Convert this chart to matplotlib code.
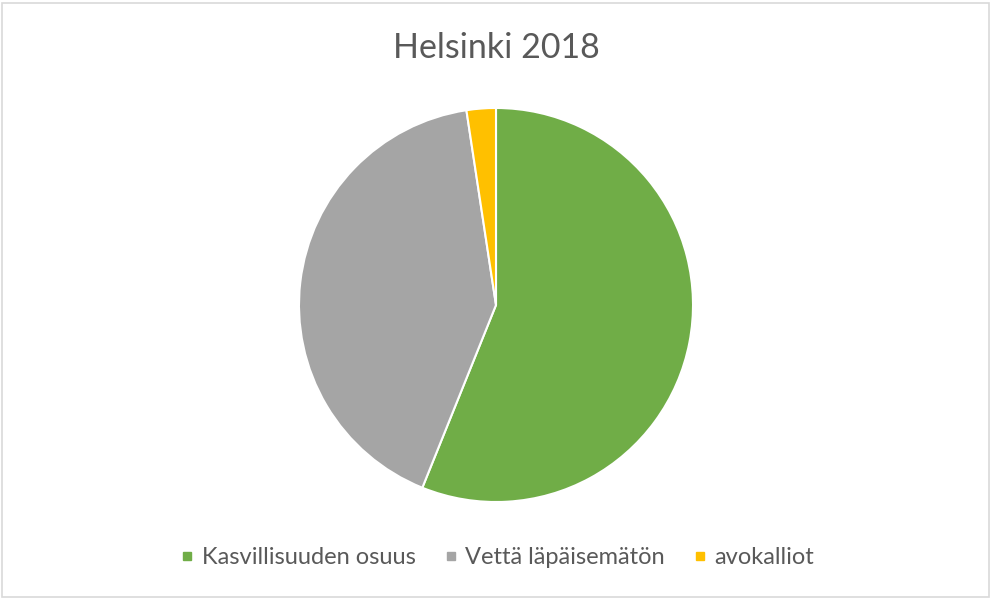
import matplotlib.pyplot as plt
from matplotlib.lines import Line2D
from matplotlib.patches import Rectangle

labels = ['Kasvillisuuden osuus', 'Vettä läpäisemätön', 'avokalliot']
values = [56.1, 41.5, 2.4]
colors = ['#70AD47', '#A5A5A5', '#FFC000']

plt.rcParams['font.family'] = ['Lato', 'DejaVu Sans']

fig = plt.figure(figsize=(9.92, 6.01), dpi=100)
fig.patches.append(Rectangle((2 / 992, 4 / 601), 987 / 992, 594 / 601,
                             transform=fig.transFigure, fill=False,
                             edgecolor='#D9D9D9', linewidth=1.2))

ax = fig.add_axes([(496 - 198) / 992, (601 - 305 - 198) / 601, 396 / 992, 396 / 601])
ax.pie(values, colors=colors, startangle=90, counterclock=False,
       wedgeprops=dict(edgecolor='white', linewidth=1.5))
ax.set_xlim(-1.005, 1.005)
ax.set_ylim(-1.005, 1.005)
ax.set_aspect('equal')

fig.text(0.5, 1 - 48 / 601, 'Helsinki 2018', ha='center', va='center',
         fontsize=24.5, color='#595959')

handles = [Line2D([], [], marker='s', linestyle='none', markersize=6,
                  markerfacecolor=c, markeredgecolor=c) for c in colors]
fig.legend(handles, labels, loc='center', bbox_to_anchor=(0.5, 1 - 558 / 601),
           ncol=3, frameon=False, fontsize=17, labelcolor='#595959',
           handletextpad=0.2, columnspacing=1.1, handlelength=0.8)

plt.savefig('out.png', dpi=100)
